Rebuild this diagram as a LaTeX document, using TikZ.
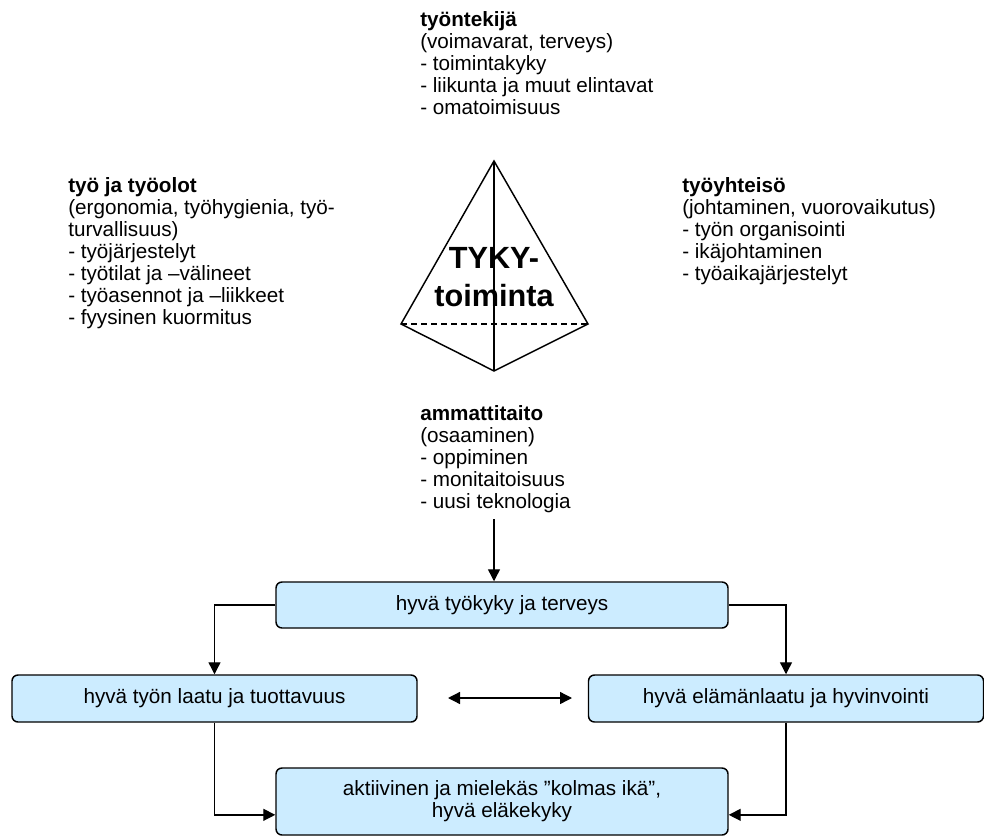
\documentclass[tikz,border=0pt]{standalone}
\usepackage{fontspec}
\setmainfont{Liberation Sans}
\usepackage{tikz}
\usetikzlibrary{calc}
\usetikzlibrary{positioning}
\usetikzlibrary{arrows.meta}

\definecolor{boxblue}{HTML}{CCECFF}

\tikzset{
  txtblock/.style={anchor=north west, inner sep=0pt, align=left,
    font=\fontsize{15.5}{16.5}\selectfont},
  resbox/.style={draw, fill=boxblue, rounded corners=4.5pt, line width=1.1pt,
    align=center, inner sep=0pt, font=\fontsize{15.5}{16.5}\selectfont},
  arr/.style={-{Triangle[length=9pt,width=9pt]}, line width=1pt},
  pyr/.style={line width=1.1pt}
}

\begin{document}
\begin{tikzpicture}[x=0.75pt,y=-0.75pt]
			\useasboundingbox (0,0) rectangle (984,837);

			% pyramid
			\coordinate (apex) at (494,161);
			\coordinate (lcorner) at (401,324);
			\coordinate (rcorner) at (588,324);
			\coordinate (front) at (494,371);
			\draw[pyr] (apex) -- (lcorner) -- (front) -- (rcorner) -- cycle;
			\draw[pyr] (apex) -- (front);
			\draw[pyr, dash pattern=on 4.5pt off 3pt] (lcorner) -- (rcorner);
			\node[align=center, inner sep=0pt, font=\fontsize{23}{29}\selectfont\bfseries] (tyky) at (494,277) {TYKY-\\toiminta};

			% the four corners
			\node[txtblock] (tyontekija) at (420,11) {\textbf{työntekijä}\\(voimavarat, terveys)\\- toimintakyky\\- liikunta ja muut elintavat\\- omatoimisuus};
			\node[txtblock] (tyoolot) at (68,177) {\textbf{työ ja työolot}\\(ergonomia, työhygienia, työ-\\turvallisuus)\\- työjärjestelyt\\- työtilat ja –välineet\\- työasennot ja –liikkeet\\- fyysinen kuormitus};
			\node[txtblock] (tyoyhteiso) at (682,177) {\textbf{työyhteisö}\\(johtaminen, vuorovaikutus)\\- työn organisointi\\- ikäjohtaminen\\- työaikajärjestelyt};
			\node[txtblock] (ammattitaito) at (420,405) {\textbf{ammattitaito}\\(osaaminen)\\- oppiminen\\- monitaitoisuus\\- uusi teknologia};

			% results
			\node[resbox, minimum width=339pt, minimum height=34.5pt] (tyokyky) at (502,605) {hyvä työkyky ja terveys};
			\node[resbox, minimum width=303.75pt, minimum height=35.25pt] (laatu) at (214.5,698.5) {hyvä työn laatu ja tuottavuus};
			\node[resbox, minimum width=296.25pt, minimum height=35.25pt] (hyvinvointi) at (786,698.5) {hyvä elämänlaatu ja hyvinvointi};
			\node[resbox, minimum width=339pt, minimum height=50.25pt] (kolmasika) at (502,801.5) {aktiivinen ja mielekäs ”kolmas ikä”,\\hyvä eläkekyky};

			\coordinate (amstart) at (494,519);
			\coordinate (dleft) at (448,698);
			\coordinate (dright) at (572,698);

			\draw[arr] (amstart) -- (amstart |- tyokyky.north);
			\draw[arr] (tyokyky.west) -| (laatu.north);
			\draw[arr] (tyokyky.east) -| (hyvinvointi.north);
			\draw[arr] (laatu.south) |- ([yshift=-10pt]kolmasika.west);
			\draw[arr] (hyvinvointi.south) |- ([yshift=-10pt]kolmasika.east);
			\draw[arr, {Triangle[length=9pt,width=9pt]}-{Triangle[length=9pt,width=9pt]}] (dleft) -- (dright);
        \end{tikzpicture}
\end{document}
